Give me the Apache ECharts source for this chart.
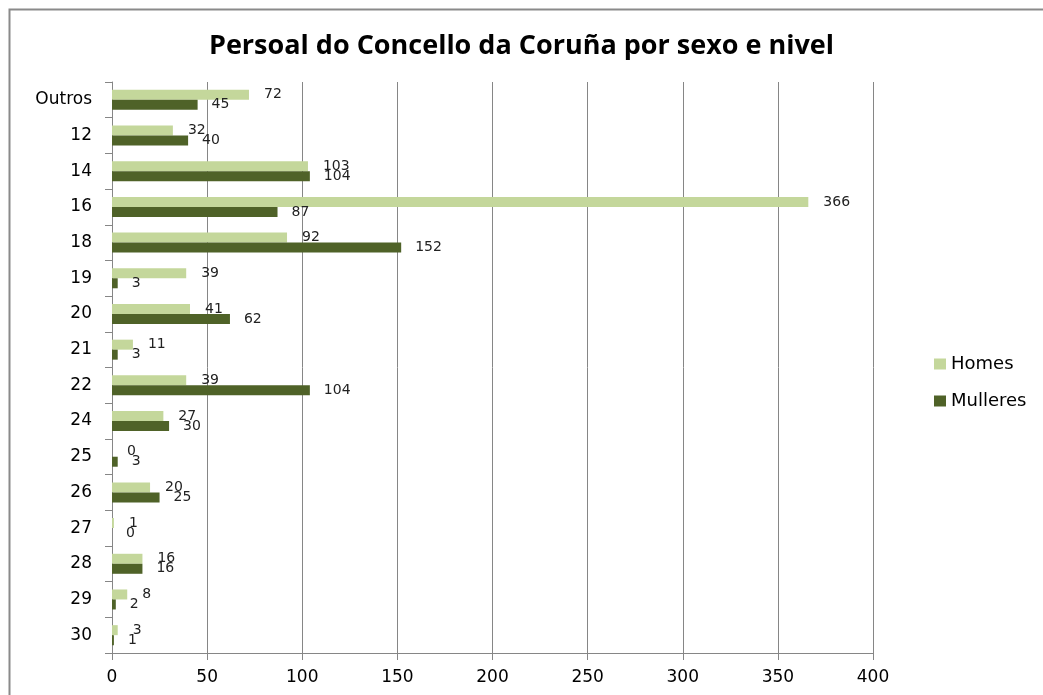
<!DOCTYPE html>
<html>
<head>
<meta charset="utf-8">
<script src="https://cdn.jsdelivr.net/npm/echarts@6/dist/echarts.min.js"></script>
<style>
html,body{margin:0;padding:0;background:#fff;}
#main{width:1043px;height:695px;}
</style>
</head>
<body>
<div id="main"></div>
<script>
var niveis = ['Outros', '12', '14', '16', '18', '19', '20', '21', '22', '24', '25', '26', '27', '28', '29', '30'];
var homes = [72, 32, 103, 366, 92, 39, 41, 11, 39, 27, 0, 20, 1, 16, 8, 3];
var mulleres = [45, 40, 104, 87, 152, 3, 62, 3, 104, 30, 3, 25, 0, 16, 2, 1];

var gris = '#868686';
var chart = echarts.init(document.getElementById('main'));
chart.setOption({
    animation: false,
    title: {
        text: 'Persoal do Concello da Coruña por sexo e nivel',
        left: 'center',
        top: 28,
        textStyle: {
            fontFamily: 'Open Sans',
            fontSize: 27,
            fontWeight: 'bold',
            color: '#000'
        }
    },
    graphic: [{
        type: 'rect',
        shape: {x: 9.5, y: 9.5, width: 1100, height: 800},
        style: {fill: 'none', stroke: '#8a8a8a', lineWidth: 2}
    }],
    legend: {
        orient: 'vertical',
        left: 929,
        top: 350,
        itemWidth: 12,
        itemHeight: 11,
        itemGap: 19,
        icon: 'rect',
        data: ['Homes', 'Mulleres'],
        textStyle: {fontFamily: 'DejaVu Sans', fontSize: 18, color: '#000'}
    },
    grid: {left: 112, top: 82, right: 170, bottom: 42},
    xAxis: {
        type: 'value',
        min: 0,
        max: 400,
        interval: 50,
        axisLine: {show: true, lineStyle: {color: gris}},
        axisTick: {show: true, length: 7, lineStyle: {color: gris}},
        splitLine: {show: true, lineStyle: {color: gris}},
        axisLabel: {fontFamily: 'DejaVu Sans', fontSize: 17, color: '#000', margin: 16}
    },
    yAxis: {
        type: 'category',
        inverse: true,
        data: niveis,
        axisLine: {show: true, lineStyle: {color: gris}},
        axisTick: {show: true, length: 7, lineStyle: {color: gris}},
        axisLabel: {fontFamily: 'DejaVu Sans', fontSize: 17, color: '#000', margin: 20}
    },
    series: [{
        name: 'Homes',
        type: 'bar',
        data: homes,
        barWidth: 10,
        barGap: '0%',
        itemStyle: {color: '#C4D79B'},
        label: {show: true, position: 'right', distance: 15, fontFamily: 'DejaVu Sans', fontSize: 14, color: '#222'}
    }, {
        name: 'Mulleres',
        type: 'bar',
        data: mulleres,
        barWidth: 10,
        barGap: '0%',
        itemStyle: {color: '#4F6228'},
        label: {show: true, position: 'right', distance: 14, fontFamily: 'DejaVu Sans', fontSize: 14, color: '#222'}
    }]
});
</script>
</body>
</html>
